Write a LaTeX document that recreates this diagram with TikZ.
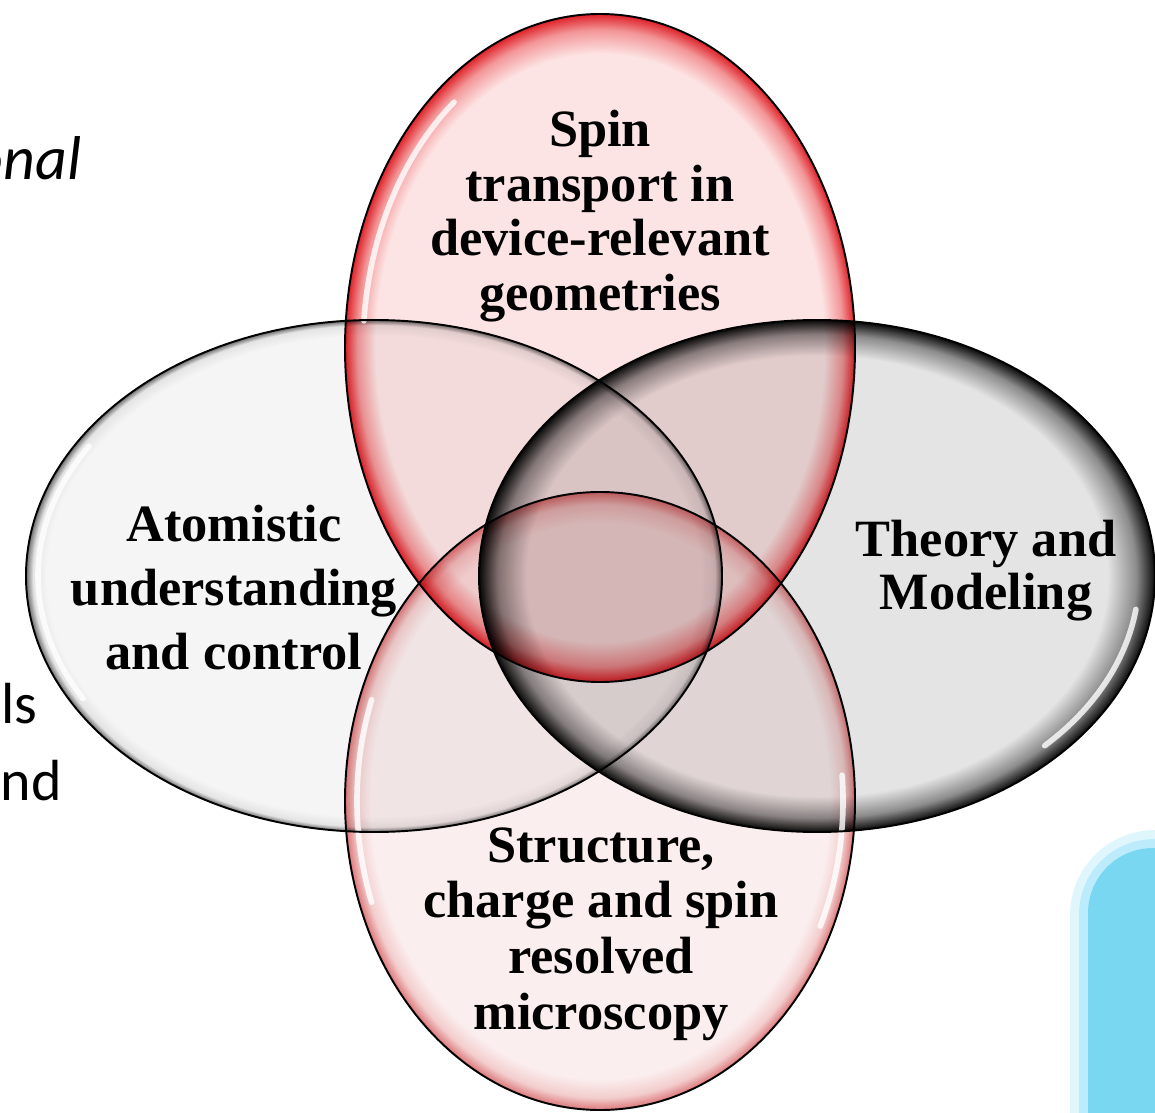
\documentclass[tikz,border=0pt]{standalone}
\usepackage{fontspec}
\setmainfont{Liberation Serif}
\newfontfamily\calibri{Carlito}
\usetikzlibrary{positioning}

% colours of the four topics
\definecolor{spinfill}{RGB}{253,228,228}
\definecolor{spinmid}{RGB}{243,150,152}
\definecolor{spinedge}{RGB}{222,34,40}
\definecolor{micfill}{RGB}{251,238,238}
\definecolor{micmid}{RGB}{243,205,205}
\definecolor{micedge}{RGB}{220,120,122}
\definecolor{atomfill}{RGB}{245,245,245}
\definecolor{atommid}{RGB}{228,228,228}
\definecolor{atomedge}{RGB}{110,110,110}
\definecolor{theofill}{RGB}{228,228,228}
\definecolor{theomid}{RGB}{140,140,140}
\definecolor{theoedge}{RGB}{10,10,10}
\definecolor{panelblue}{RGB}{122,215,242}
\definecolor{panelglow}{RGB}{165,230,250}

% glossy rims
\pgfdeclareradialshading{spinshade}{\pgfpoint{0bp}{0bp}}{color(0bp)=(spinfill); color(22bp)=(spinfill); color(23.8bp)=(spinmid); color(25bp)=(spinedge); color(50bp)=(spinedge)}
\pgfdeclareradialshading{micshade}{\pgfpoint{0bp}{0bp}}{color(0bp)=(micfill); color(22.5bp)=(micfill); color(24bp)=(micmid); color(25bp)=(micedge); color(50bp)=(micedge)}
\pgfdeclareradialshading{atomshade}{\pgfpoint{0bp}{0bp}}{color(0bp)=(atomfill); color(23.5bp)=(atomfill); color(24.5bp)=(atommid); color(25bp)=(atomedge); color(50bp)=(atomedge)}
\pgfdeclareradialshading{theoshade}{\pgfpoint{0bp}{0bp}}{color(0bp)=(theofill); color(21.5bp)=(theofill); color(23.6bp)=(theomid); color(25bp)=(theoedge); color(50bp)=(theoedge)}

\tikzset{
    %Define style for the topic texts
    topic/.style={
           align=center,
           inner sep=0pt,
           text=black,
           font=\bfseries\fontsize{14.9}{#1}\selectfont},
    %Define style for the cut-off side texts
    sidetext/.style={
           inner sep=0pt,
           text=black},
    % outline of an ellipse
    rim/.style={
           draw=black,
           line width=0.55pt},
    % white shine inside a rim
    gloss/.style={
           draw=white,
           line width=1.6pt,
           line cap=round,
           opacity=.8}
}

\begin{document}
\begin{tikzpicture}[x=0.01cm,y=-0.01cm]
\useasboundingbox (0,0) rectangle (1155,1113);
\clip (0,0) rectangle (1155,1113);
 %side texts
\node[sidetext, anchor=base east, font=\calibri\itshape\fontsize{17.6}{20}\selectfont] (onal) at (82,180) {onal};
\node[sidetext, anchor=base west, font=\calibri\fontsize{16.5}{19}\selectfont] (ls) at (1,723) {ls};
\node[sidetext, anchor=base west, font=\calibri\fontsize{16.5}{19}\selectfont] (nd) at (0,800) {nd};
 %blue panel
\fill[panelglow, opacity=.35, rounded corners=8.5mm] (1070,830) rectangle (1260,1220);
\fill[panelglow, opacity=.6, rounded corners=7.5mm] (1079,839) rectangle (1260,1220);
\fill[panelblue, rounded corners=6.5mm] (1088,848) rectangle (1260,1220);
 %ellipses
\begin{scope}[blend mode=multiply]
\shade[shading=atomshade] (374,576) ellipse [x radius=348, y radius=256];
\shade[shading=theoshade] (817,576) ellipse [x radius=338, y radius=256];
\shade[shading=micshade] (600,801) ellipse [x radius=255, y radius=309];
\shade[shading=spinshade] (600,348) ellipse [x radius=255, y radius=334];
\end{scope}
 %shine
\draw[gloss] (600,348) ++(185:237 and 312) arc[start angle=185, end angle=232, x radius=237, y radius=312];
\draw[gloss] (817,576) ++(8:322 and 240) arc[start angle=8, end angle=45, x radius=322, y radius=240];
\draw[gloss] (374,576) ++(150:336 and 245) arc[start angle=150, end angle=212, x radius=336, y radius=245];
\draw[gloss] (600,801) ++(160:243 and 296) arc[start angle=160, end angle=200, x radius=243, y radius=296];
\draw[gloss] (600,801) ++(-5:243 and 296) arc[start angle=-5, end angle=25, x radius=243, y radius=296];
 %outlines
\draw[rim] (374,576) ellipse [x radius=348, y radius=256];
\draw[rim] (817,576) ellipse [x radius=338, y radius=256];
\draw[rim] (600,801) ellipse [x radius=255, y radius=309];
\draw[rim] (600,348) ellipse [x radius=255, y radius=334];
 %topics
\node[topic=15.5pt] (spin) at (600,216) {Spin\\transport in\\device-relevant\\geometries};
\node[topic=18.2pt] (atom) at (234,588) {Atomistic\\understanding\\and control};
\node[topic=15.1pt] (theo) at (986,571) {Theory and\\Modeling};
\node[topic=15.85pt] (mic) at (601,934) {Structure,\\charge and spin\\resolved\\microscopy};
\end{tikzpicture}
\end{document}
